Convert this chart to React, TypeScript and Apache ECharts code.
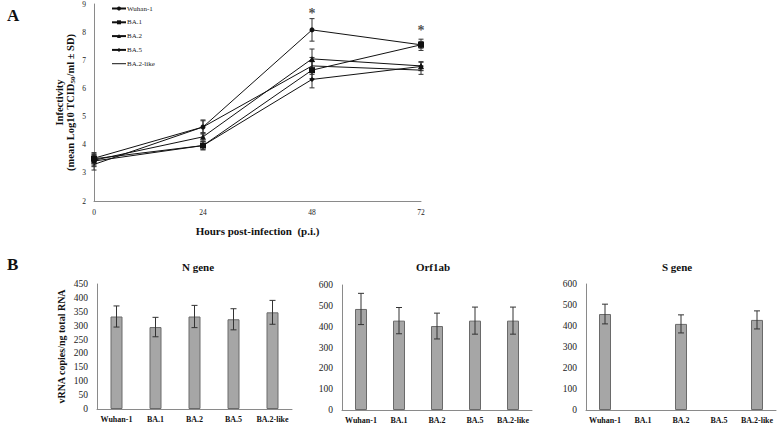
import React, { useEffect, useRef } from "react";
import * as echarts from "echarts";

const hours = [0, 24, 48, 72];
const variants = ["Wuhan-1", "BA.1", "BA.2", "BA.5", "BA.2-like"];
const symbols = ["circle", "rect", "triangle", "diamond", "none"];
const symbolSizes = [5, 6, 6, 5, 0];

const wuhanA = [3.52, 4.63, 8.08, 7.55];
const ba1A = [3.5, 3.97, 6.65, 7.55];
const ba2A = [3.45, 4.28, 7.05, 6.8];
const ba5A = [3.42, 3.97, 6.32, 6.78];
const ba2likeA = [3.3, 4.63, 6.8, 6.65];
const wuhanErr = [0.2, 0.22, 0.4, 0.12];
const ba1Err = [0.18, 0.15, 0.3, 0.2];
const ba2Err = [0.2, 0.15, 0.35, 0.15];
const ba5Err = [0.2, 0.15, 0.3, 0.15];
const ba2likeErr = [0.2, 0.25, 0.3, 0.15];
const sigPoints = [[48, 8.68], [72, 8.05]];

const nGene = [333, 295, 333, 323, 348];
const nGeneErr = [38, 35, 40, 38, 43];
const orf1ab = [485, 429, 403, 429, 429];
const orf1abErr = [75, 63, 62, 65, 65];
const sGene = [457, 0, 410, 0, 429];
const sGeneErr = [47, 0, 43, 0, 43];

const FONT = "'Liberation Serif', 'Times New Roman', serif";
const AXIS = "#8a8a8a";
const LINE_ICON = "path://M0,0M0,10M0,4H28V6H0Z";

function errRender(cap: number) {
  return (params: any, api: any) => {
    const x = api.value(0);
    const lo = api.value(1);
    const hi = api.value(2);
    const p1 = api.coord([x, lo]);
    const p2 = api.coord([x, hi]);
    const st = { stroke: "#333", lineWidth: 1 };
    return {
      type: "group",
      children: [
        { type: "line", shape: { x1: p1[0], y1: p1[1], x2: p2[0], y2: p2[1] }, style: st },
        { type: "line", shape: { x1: p1[0] - cap, y1: p1[1], x2: p1[0] + cap, y2: p1[1] }, style: st },
        { type: "line", shape: { x1: p2[0] - cap, y1: p2[1], x2: p2[0] + cap, y2: p2[1] }, style: st },
      ],
    };
  };
}

export default function App() {
  const ref = useRef<HTMLDivElement>(null);
  useEffect(() => {
    const chart = echarts.init(ref.current!, null, { renderer: "svg" });
    const lineData = [wuhanA, ba1A, ba2A, ba5A, ba2likeA];
    const errData = [wuhanErr, ba1Err, ba2Err, ba5Err, ba2likeErr];

    const barGrids = [
      { left: 97, right: 777 - 292, top: 284, bottom: 15 },
      { left: 342, right: 777 - 532, top: 285, bottom: 14 },
      { left: 586, right: 777 - 776, top: 284, bottom: 14 },
    ];
    const barVals = [nGene, orf1ab, sGene];
    const barErrs = [nGeneErr, orf1abErr, sGeneErr];
    const barMax = [450, 600, 600];
    const barInt = [50, 100, 100];
    const barTitles = ["N gene", "Orf1ab", "S gene"];
    const titleX = [193, 428, 672];

    const series: any[] = [];
    lineData.forEach((d, i) => {
      series.push({
        name: variants[i],
        type: "line",
        xAxisIndex: 0,
        yAxisIndex: 0,
        data: hours.map((h, k) => [h, d[k]]),
        symbol: symbols[i],
        symbolSize: symbolSizes[i],
        showSymbol: symbols[i] !== "none",
        lineStyle: { color: "#111", width: 1 },
        itemStyle: { color: "#111" },
        z: 3,
      });
      series.push({
        type: "custom",
        xAxisIndex: 0,
        yAxisIndex: 0,
        renderItem: errRender(2.5),
        data: hours.map((h, k) => [h, d[k] - errData[i][k], d[k] + errData[i][k]]),
        z: 2,
      });
    });
    series.push({
      type: "scatter",
      xAxisIndex: 0,
      yAxisIndex: 0,
      symbolSize: 0,
      data: sigPoints,
      label: {
        show: true,
        formatter: "*",
        position: "inside",
        fontSize: 14,
        fontWeight: "bold",
        color: "#222",
        fontFamily: FONT,
      },
    });

    barVals.forEach((vals, g) => {
      series.push({
        type: "bar",
        xAxisIndex: g + 1,
        yAxisIndex: g + 1,
        data: vals.map((v) => (v > 0 ? v : "-")),
        barWidth: 12,
        itemStyle: { color: "#a6a6a6", borderColor: "#6a6a6a", borderWidth: 1 },
      });
      const ed: any[] = [];
      vals.forEach((v, k) => {
        if (v > 0) ed.push([k, v - barErrs[g][k], v + barErrs[g][k]]);
      });
      series.push({
        type: "custom",
        xAxisIndex: g + 1,
        yAxisIndex: g + 1,
        renderItem: errRender(3),
        data: ed,
        z: 3,
      });
    });

    const catAxis = (g: number) => ({
      type: "category",
      gridIndex: g,
      data: variants,
      axisLine: { lineStyle: { color: AXIS } },
      axisTick: { show: false },
      axisLabel: { fontFamily: FONT, fontSize: 8, fontWeight: "bold", color: "#111", margin: 6, interval: 0 },
    });
    const valAxis = (g: number, max: number, interval: number, extra: any = {}) => ({
      type: "value",
      gridIndex: g,
      min: 0,
      max,
      interval,
      splitLine: { show: false },
      axisLine: { show: true, lineStyle: { color: AXIS } },
      axisTick: { show: false },
      axisLabel: { fontFamily: FONT, fontSize: 9.5, color: "#222", margin: 9 },
      ...extra,
    });

    chart.setOption({
      animation: false,
      backgroundColor: "#fff",
      title: barTitles.map((t, i) => ({
        text: t,
        left: titleX[i],
        top: 256,
        textAlign: "center",
        textStyle: { fontFamily: FONT, fontSize: 11, fontWeight: "bold", color: "#111" },
      })),
      legend: {
        data: variants.map((v, i) => (symbols[i] === "none" ? { name: v, icon: LINE_ICON } : { name: v })),
        orient: "vertical",
        left: 111,
        top: 5,
        itemWidth: 14,
        itemHeight: 5,
        itemGap: 6.8,
        padding: 0,
        textStyle: { fontFamily: FONT, fontSize: 7, color: "#222", padding: [0, 0, 0, -4] },
      },
      grid: [
        { left: 94, right: 777 - 421, top: 4, bottom: 424 - 201 },
        ...barGrids,
      ],
      xAxis: [
        {
          type: "value",
          gridIndex: 0,
          min: 0,
          max: 72,
          interval: 24,
          splitLine: { show: false },
          axisLine: { lineStyle: { color: AXIS } },
          axisTick: { show: false },
          axisLabel: { fontFamily: FONT, fontSize: 7.5, color: "#222", margin: 7 },
          name: "Hours post-infection  (p.i.)",
          nameLocation: "middle",
          nameGap: 24,
          nameTextStyle: { fontFamily: FONT, fontSize: 11, fontWeight: "bold", color: "#111" },
        },
        catAxis(1),
        catAxis(2),
        catAxis(3),
      ],
      yAxis: [
        {
          type: "value",
          gridIndex: 0,
          min: 2,
          max: 9,
          interval: 1,
          splitLine: { show: false },
          axisLine: { show: true, lineStyle: { color: AXIS } },
          axisTick: { show: false },
          axisLabel: { fontFamily: FONT, fontSize: 7.5, color: "#222", margin: 8 },
          name: "{b|Infectivity}\n{b|(mean Log10 TCID}{s|50}{b|/ml ± SD)}",
          nameLocation: "middle",
          nameRotate: 90,
          nameGap: 18,
          nameTextStyle: {
            fontFamily: FONT,
            color: "#111",
            lineHeight: 11,
            rich: {
              b: { fontFamily: FONT, fontSize: 10.5, fontWeight: "bold", color: "#111", lineHeight: 11 },
              s: { fontFamily: FONT, fontSize: 7, fontWeight: "bold", color: "#111", lineHeight: 11, padding: [4, 0, 0, 0] },
            },
          },
        },
        valAxis(1, barMax[0], barInt[0], {
          name: "vRNA copies/ng total RNA",
          nameLocation: "middle",
          nameRotate: 90,
          nameGap: 31,
          nameTextStyle: { fontFamily: FONT, fontSize: 10, fontWeight: "bold", color: "#111" },
        }),
        valAxis(2, barMax[1], barInt[1]),
        valAxis(3, barMax[2], barInt[2]),
      ],
      graphic: [
        { type: "text", left: 7, top: 7, style: { text: "A", font: `bold 17px ${FONT}`, fill: "#111" } },
        { type: "text", left: 7, top: 256, style: { text: "B", font: `bold 17px ${FONT}`, fill: "#111" } },
      ],
      series,
    });
    return () => chart.dispose();
  }, []);
  return <div ref={ref} style={{ width: 777, height: 424, position: "absolute", left: 0, top: 0 }} />;
}
